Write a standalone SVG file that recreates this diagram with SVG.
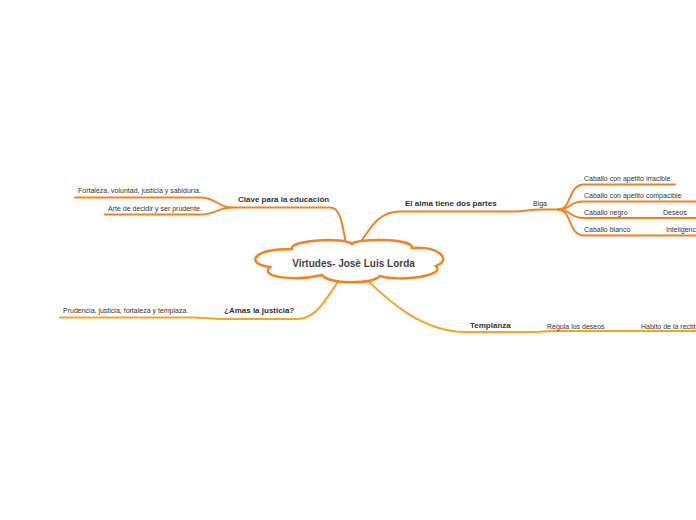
<svg xmlns="http://www.w3.org/2000/svg" width="696" height="520" viewBox="0 0 696 520">
<style>
.c1{fill:none;stroke:#f5821f;stroke-width:2;stroke-linecap:round}
.c2{fill:none;stroke:#fba31c;stroke-width:2;stroke-linecap:round}
.t{font-family:"Liberation Sans",Arial,sans-serif;fill:#333}
.s{font-size:7px}
.b{font-size:8px;font-weight:bold}
.m{font-size:10px;font-weight:bold;fill:#444}
</style>
<rect width="696" height="520" fill="#ffffff"/>
<g id="connectors">
<path class="c1" d="M346,243 C342,225 341,207.5 330,207.5 L232,207.5"/>
<path class="c1" d="M232,207.5 C218,207.5 216,197.5 200,197.5 L75,197.5"/>
<path class="c1" d="M232,207.5 C218,207.5 216,214.5 200,214.5 L105,214.5"/>
<path class="c1" d="M360,243 C372,225 380,211.5 400,211.5 L515,211.5 C525,211.5 530,209.5 540,209.5 L558,209.5"/>
<path class="c1" d="M558,209.5 C572,209.5 568,184.5 584,184.5 L675,184.5"/>
<path class="c1" d="M558,209.5 C572,209.5 568,201.5 584,201.5 L696,201.5"/>
<path class="c1" d="M558,209.5 C572,209.5 568,218 584,218 L650,218 L696,218"/>
<path class="c1" d="M558,209.5 C572,209.5 568,235.5 584,235.5 L650,235.5 L696,235.5"/>
<path class="c2" d="M339,280 C326,300 315,319 298,319 L225,319 C210,319 205,317.5 192,317.5 L60,317.5"/>
<path class="c2" d="M367,280 C385,297 420,332 465,332 L530,332 C540,332 545,331 555,331 L696,331"/>
</g>
<g id="center">
<path d="M292,249 C288,240 345,237 352,244 C356,238 414,238 412,248 C440,246 452,260 436,266 C446,276 400,282 380,276 C370,285 328,284 322,275 C298,281 258,278 270,267 C246,264 250,249 292,249 Z" fill="#ffffff" stroke="#f5821f" stroke-width="2.5"/>
<text class="t m" x="353.5" y="266.5" text-anchor="middle">Virtudes- Josè Luis Lorda</text>
</g>
<g id="clave"><text class="t b" x="238" y="202">Clave para la educación</text></g>
<g id="fortaleza"><text class="t s" x="78" y="193">Fortaleza, voluntad, justicia y sabiduría.</text></g>
<g id="arte"><text class="t s" x="108" y="210.5">Arte de decidir y ser prudente.</text></g>
<g id="alma"><text class="t b" x="405" y="206">El alma tiene dos partes</text></g>
<g id="biga"><text class="t s" x="533" y="206">Biga</text></g>
<g id="irracible"><text class="t s" x="584" y="180.5">Caballo con apetito irracible</text></g>
<g id="compacible"><text class="t s" x="584" y="197.5">Caballo con apetito compacible</text></g>
<g id="negro"><text class="t s" x="584" y="215">Caballo negro</text></g>
<g id="deseos"><text class="t s" x="663" y="215">Deseos</text></g>
<g id="blanco"><text class="t s" x="584" y="232">Caballo blanco</text></g>
<g id="inteligencia"><text class="t s" x="666" y="232">Inteligencia</text></g>
<g id="amas"><text class="t b" x="224" y="313">¿Amas la justicia?</text></g>
<g id="prudencia"><text class="t s" x="63" y="313">Prudencia, justicia, fortaleza y templaza.</text></g>
<g id="templanza"><text class="t b" x="470" y="328">Templanza</text></g>
<g id="regula"><text class="t s" x="547" y="328.5">Regula los deseos</text></g>
<g id="habito"><text class="t s" x="641" y="328.5">Habito de la rectitud</text></g>
</svg>
